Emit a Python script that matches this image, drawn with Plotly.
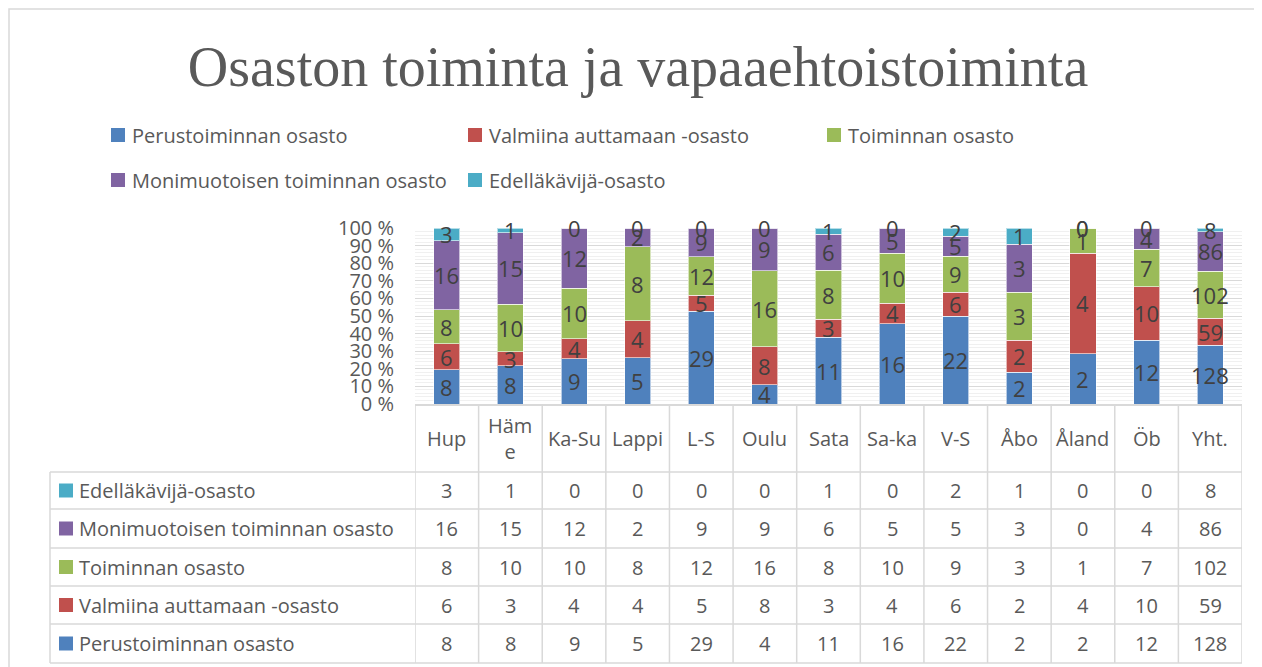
import plotly.graph_objects as go

# ---------------- data ----------------
categories = ["Hup", "Häme", "Ka-Su", "Lappi", "L-S", "Oulu", "Sata", "Sa-ka", "V-S", "Åbo", "Åland", "Öb", "Yht."]
header_labels = ["Hup", "Häm<br>e", "Ka-Su", "Lappi", "L-S", "Oulu", "Sata", "Sa-ka", "V-S", "Åbo", "Åland", "Öb", "Yht."]

series_names = ["Perustoiminnan osasto", "Valmiina auttamaan -osasto", "Toiminnan osasto",
                "Monimuotoisen toiminnan osasto", "Edelläkävijä-osasto"]
perustoiminnan = [8, 8, 9, 5, 29, 4, 11, 16, 22, 2, 2, 12, 128]
valmiina = [6, 3, 4, 4, 5, 8, 3, 4, 6, 2, 4, 10, 59]
toiminnan = [8, 10, 10, 8, 12, 16, 8, 10, 9, 3, 1, 7, 102]
monimuotoisen = [16, 15, 12, 2, 9, 9, 6, 5, 5, 3, 0, 4, 86]
edellakavija = [3, 1, 0, 0, 0, 0, 1, 0, 2, 1, 0, 0, 8]
series_values = [perustoiminnan, valmiina, toiminnan, monimuotoisen, edellakavija]
colors = ["#4F81BD", "#C0504D", "#9BBB59", "#8064A2", "#4BACC6"]

title_text = "Osaston toiminta ja vapaaehtoistoiminta"

# ---------------- layout geometry (screen pixels; page body has an 8px margin) ----------------
OFF = 8
W, H = 1262 - OFF, 667 - OFF
L, R, T, B = 415, 1242, 228, 404  # plot area in screen pixels
PW, PH = R - L, B - T


def px(x):
    return (x - L) / PW


def py(y):
    return (B - y) / PH


FONT = "Open Sans"
GRAY = "#595959"
DARK = "#404040"
LINE = "#d9d9d9"

totals = [sum(s[i] for s in series_values) for i in range(len(categories))]

fig = go.Figure()
for name, vals, col in zip(series_names, series_values, colors):
    pct = [v / t * 100 if t else 0 for v, t in zip(vals, totals)]
    fig.add_trace(go.Bar(
        x=categories, y=pct, name=name, width=0.41,
        marker=dict(color=col, line=dict(color="rgba(255,255,255,0.6)", width=1)),
        showlegend=False, hoverinfo="name+y",
    ))

annotations = []
shapes = []

# data labels in bars
cum = [0.0] * len(categories)
for vals in series_values:
    for i, (v, t) in enumerate(zip(vals, totals)):
        p = v / t * 100 if t else 0
        annotations.append(dict(x=i, y=cum[i] + p / 2, xref="x", yref="y", text=str(v),
                                showarrow=False, font=dict(family=FONT, size=22, color=DARK),
                                xanchor="center", yanchor="middle"))
        cum[i] += p

# outer frame
shapes.append(dict(type="rect", xref="paper", yref="paper", x0=px(9), y0=py(9), x1=px(1290), y1=py(700),
                   line=dict(color=LINE, width=1.5), layer="below"))

# manual legend
legend_pos = [(111, 135), (468, 135), (827, 135), (111, 180), (468, 180)]
for (lx, ly), name, col in zip(legend_pos, series_names, colors):
    shapes.append(dict(type="rect", xref="paper", yref="paper", x0=px(lx), x1=px(lx + 14),
                       y0=py(ly - 7), y1=py(ly + 7), fillcolor=col, line=dict(width=0)))
    annotations.append(dict(x=px(lx + 19), y=py(ly), xref="paper", yref="paper", text=name,
                            showarrow=False, xanchor="left", yanchor="middle",
                            font=dict(family=FONT, size=20, color=GRAY)))

# data table
row_bounds = [472, 509, 548, 586, 624, 663]
tbl_left = 50
for yb in row_bounds:
    shapes.append(dict(type="line", xref="paper", yref="paper", x0=px(tbl_left), x1=1,
                       y0=py(yb), y1=py(yb), line=dict(color=LINE, width=1.5)))
shapes.append(dict(type="line", xref="paper", yref="paper", x0=px(tbl_left), x1=px(tbl_left),
                   y0=py(row_bounds[0]), y1=py(row_bounds[-1]), line=dict(color=LINE, width=1.5)))
for k in range(len(categories) + 1):
    shapes.append(dict(type="line", xref="x", yref="paper", x0=k - 0.5, x1=k - 0.5,
                       y0=0, y1=py(row_bounds[-1]), line=dict(color=LINE, width=1.5)))

# header labels
for i, lab in enumerate(header_labels):
    annotations.append(dict(x=i, y=py((B + row_bounds[0]) / 2), xref="x", yref="paper", text=lab,
                            showarrow=False, xanchor="center", yanchor="middle",
                            font=dict(family=FONT, size=20, color=GRAY)))

# rows (top to bottom: reverse series order)
for r, idx in enumerate(reversed(range(len(series_names)))):
    yc = (row_bounds[r] + row_bounds[r + 1]) / 2
    shapes.append(dict(type="rect", xref="paper", yref="paper", x0=px(59), x1=px(73),
                       y0=py(yc - 7), y1=py(yc + 7), fillcolor=colors[idx], line=dict(width=0)))
    annotations.append(dict(x=px(77), y=py(yc), xref="paper", yref="paper", text=series_names[idx],
                            showarrow=False, xanchor="left", yanchor="middle",
                            font=dict(family=FONT, size=20, color=GRAY)))
    for i, v in enumerate(series_values[idx]):
        annotations.append(dict(x=i, y=py(yc), xref="x", yref="paper", text=str(v),
                                showarrow=False, xanchor="center", yanchor="middle",
                                font=dict(family=FONT, size=20, color=GRAY)))

fig.update_layout(
    width=W, height=H,
    margin=dict(l=L - OFF, r=1262 - R, t=T - OFF, b=667 - B, pad=0),
    paper_bgcolor="white", plot_bgcolor="white",
    barmode="stack", bargap=0.59,
    title=dict(text=title_text, x=(638 - OFF) / W, xref="container", xanchor="center",
               y=1 - (66 - OFF) / H, yref="container", yanchor="middle",
               font=dict(family="Liberation Serif", size=56, color=GRAY)),
    xaxis=dict(range=[-0.5, len(categories) - 0.5], showticklabels=False, showgrid=False,
               showline=True, linecolor=LINE, linewidth=1.5, zeroline=False, fixedrange=True),
    yaxis=dict(range=[0, 100], dtick=10, ticksuffix=" %", showgrid=True, gridcolor=LINE, gridwidth=1,
               minor=dict(dtick=2, showgrid=True, gridcolor="#f0f0f0", gridwidth=1),
               zeroline=False, ticks="", ticklabelstandoff=20,
               tickfont=dict(family=FONT, size=20, color=GRAY)),
    annotations=annotations, shapes=shapes,
    showlegend=False,
)

fig.write_html("out.html")
